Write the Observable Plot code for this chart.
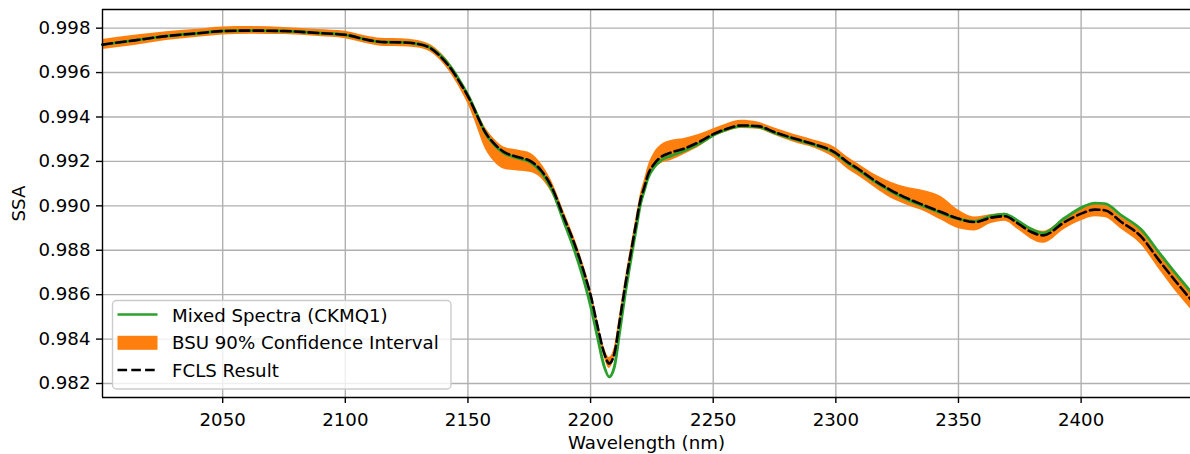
<!DOCTYPE html>
<html>
<head>
<meta charset="utf-8">
<script src="https://cdn.jsdelivr.net/npm/d3@7"></script>
<script src="https://cdn.jsdelivr.net/npm/@observablehq/plot@0.6"></script>
<style>
  html, body { margin: 0; padding: 0; background: white; }
</style>
</head>
<body>
<div id="chart"></div>
<script>
const wavelength = [2001, 2014, 2027, 2041, 2050, 2061, 2075, 2089, 2100, 2110, 2116, 2123, 2129, 2135, 2139, 2143, 2147, 2150.5, 2154, 2156.6, 2160.7, 2164.8, 2170.3, 2175.7, 2179.8, 2184, 2189.3, 2193.4, 2197.5, 2200.2, 2202.9, 2205.6, 2207.6, 2209.7, 2211.7, 2213.8, 2216.6, 2218.5, 2220.3, 2222, 2223.3, 2226, 2228.7, 2232.8, 2238.2, 2245, 2250.4, 2255.9, 2261.4, 2268.2, 2275, 2283.1, 2291.3, 2299.4, 2304.9, 2308.9, 2315.7, 2322.5, 2329.3, 2336.1, 2342.9, 2349.8, 2356.6, 2363.4, 2368.8, 2374.3, 2379.7, 2384.5, 2393.3, 2400.1, 2405.6, 2409.6, 2416.4, 2424.6, 2431.4, 2438.2, 2445];

const fcls = [0.99726, 0.99745, 0.99764, 0.99778, 0.99787, 0.99789, 0.99787, 0.99778, 0.99770, 0.99745, 0.99737, 0.99736, 0.99730, 0.99708, 0.99670, 0.99618, 0.99550, 0.99483, 0.99400, 0.99340, 0.99280, 0.99242, 0.99220, 0.99200, 0.99160, 0.99088, 0.98943, 0.98830, 0.98695, 0.98590, 0.98455, 0.98335, 0.98290, 0.98335, 0.98470, 0.98620, 0.98800, 0.98917, 0.99025, 0.99088, 0.99137, 0.99190, 0.99220, 0.99240, 0.99258, 0.99292, 0.99325, 0.99348, 0.99362, 0.99359, 0.99332, 0.99303, 0.99277, 0.99242, 0.99196, 0.99168, 0.99115, 0.99070, 0.99033, 0.99002, 0.98972, 0.98943, 0.98927, 0.98947, 0.98953, 0.98920, 0.98882, 0.98867, 0.98927, 0.98965, 0.98983, 0.98980, 0.98927, 0.98860, 0.98760, 0.98665, 0.98575];

const mixed = [0.99726, 0.99745, 0.99764, 0.99778, 0.99787, 0.99789, 0.99787, 0.99778, 0.99770, 0.99745, 0.99737, 0.99736, 0.99730, 0.99710, 0.99675, 0.99625, 0.99557, 0.99488, 0.99403, 0.99338, 0.99275, 0.99237, 0.99215, 0.99195, 0.99153, 0.99078, 0.98923, 0.98800, 0.98655, 0.98540, 0.98405, 0.98275, 0.98230, 0.98275, 0.98420, 0.98580, 0.98770, 0.98892, 0.99005, 0.99073, 0.99122, 0.99175, 0.99205, 0.99225, 0.99248, 0.99284, 0.99320, 0.99345, 0.99359, 0.99356, 0.99329, 0.99300, 0.99274, 0.99239, 0.99191, 0.99163, 0.99110, 0.99065, 0.99028, 0.98997, 0.98968, 0.98941, 0.98930, 0.98955, 0.98962, 0.98932, 0.98895, 0.98877, 0.98945, 0.98992, 0.99012, 0.99010, 0.98957, 0.98892, 0.98795, 0.98700, 0.98610];

const bandHigh = [0.99749, 0.99768, 0.99784, 0.99796, 0.99805, 0.99807, 0.99803, 0.99794, 0.99786, 0.99761, 0.99753, 0.99752, 0.99746, 0.99724, 0.99688, 0.99636, 0.99568, 0.99501, 0.99418, 0.99362, 0.99302, 0.99264, 0.99251, 0.99236, 0.99191, 0.99115, 0.98970, 0.98857, 0.98722, 0.98617, 0.98482, 0.98362, 0.98317, 0.98362, 0.98497, 0.98647, 0.98827, 0.98944, 0.99052, 0.99120, 0.99173, 0.99240, 0.99274, 0.99294, 0.99303, 0.99324, 0.99348, 0.99371, 0.99385, 0.99377, 0.99350, 0.99321, 0.99295, 0.99265, 0.99219, 0.99191, 0.99142, 0.99106, 0.99082, 0.99068, 0.99042, 0.98982, 0.98950, 0.98961, 0.98967, 0.98934, 0.98900, 0.98885, 0.98945, 0.98988, 0.99006, 0.99003, 0.98950, 0.98887, 0.98787, 0.98697, 0.98607];

const bandLow = [0.99704, 0.99722, 0.99744, 0.99760, 0.99769, 0.99773, 0.99771, 0.99762, 0.99752, 0.99727, 0.99717, 0.99716, 0.99712, 0.99690, 0.99652, 0.99596, 0.99523, 0.99447, 0.99346, 0.99268, 0.99199, 0.99165, 0.99157, 0.99150, 0.99124, 0.99061, 0.98934, 0.98821, 0.98686, 0.98581, 0.98446, 0.98317, 0.98268, 0.98317, 0.98461, 0.98611, 0.98791, 0.98908, 0.99016, 0.99075, 0.99115, 0.99163, 0.99189, 0.99204, 0.99231, 0.99270, 0.99311, 0.99334, 0.99348, 0.99345, 0.99318, 0.99285, 0.99259, 0.99215, 0.99165, 0.99137, 0.99084, 0.99034, 0.99002, 0.98975, 0.98936, 0.98898, 0.98887, 0.98920, 0.98931, 0.98893, 0.98850, 0.98831, 0.98895, 0.98933, 0.98951, 0.98948, 0.98895, 0.98824, 0.98720, 0.98620, 0.98530];

const xTicks = [2050, 2100, 2150, 2200, 2250, 2300, 2350, 2400];
const yTicks = [0.982, 0.984, 0.986, 0.988, 0.990, 0.992, 0.994, 0.996, 0.998];
const legendLabels = ["Mixed Spectra (CKMQ1)", "BSU 90% Confidence Interval", "FCLS Result"];

const rows = wavelength.map((w, i) => ({w, f: fcls[i], m: mixed[i], lo: bandLow[i], hi: bandHigh[i]}));

const xDomain = [2001, 2444.6];
const yDomain = [0.98137, 0.99884];
const GREEN = "#2ca02c", ORANGE = "#ff7f0e";
const FS = 18.2;

const chart = Plot.plot({
  width: 1190,
  height: 454,
  marginLeft: 102,
  marginRight: 0,
  marginTop: 9,
  marginBottom: 57,
  style: {fontFamily: "DejaVu Sans", fontSize: FS + "px", color: "black", background: "white", overflow: "visible"},
  x: {domain: xDomain},
  y: {domain: yDomain},
  marks: [
    Plot.gridX(xTicks, {stroke: "#b0b0b0", strokeOpacity: 1, strokeWidth: 1.4}),
    Plot.gridY(yTicks, {stroke: "#b0b0b0", strokeOpacity: 1, strokeWidth: 1.4}),
    Plot.areaY(rows, {x: "w", y1: "lo", y2: "hi", fill: ORANGE, curve: "monotone-x"}),
    Plot.line(rows, {x: "w", y: "m", stroke: GREEN, strokeWidth: 2.9, curve: "monotone-x"}),
    Plot.line(rows, {x: "w", y: "f", stroke: "black", strokeWidth: 2.6, strokeDasharray: "9.6,4.2", curve: "monotone-x"}),
    Plot.ruleX([xDomain[0]], {stroke: "black", strokeWidth: 1.4}),
    Plot.ruleY([yDomain[0], yDomain[1]], {stroke: "black", strokeWidth: 1.4}),
    Plot.axisX(xTicks, {tickSize: 6, tickPadding: 9.5, strokeWidth: 1.4, label: null, fill: "black", tickFormat: d3.format("d")}),
    Plot.axisY(yTicks, {tickSize: 6, tickPadding: 6, strokeWidth: 1.4, label: null, fill: "black", tickFormat: d3.format(".3f")}),
    Plot.text(["SSA"], {frameAnchor: "left", text: d => d, rotate: -90, dx: -83, textAnchor: "middle", lineAnchor: "middle", fill: "black"}),
    Plot.text(["Wavelength (nm)"], {frameAnchor: "bottom", text: d => d, dy: 46, textAnchor: "middle", lineAnchor: "middle", fill: "black"})
  ]
});

document.getElementById("chart").appendChild(chart);

// Legend (matplotlib-style, lower left inside the axes)
const svg = d3.select(chart);
const lg = svg.append("g")
  .attr("font-family", "DejaVu Sans")
  .attr("font-size", FS)
  .attr("text-anchor", "start");
lg.append("rect")
  .attr("x", 112.5).attr("y", 300.5).attr("width", 338.5).attr("height", 88.5)
  .attr("rx", 4).attr("ry", 4)
  .attr("fill", "white").attr("fill-opacity", 0.8)
  .attr("stroke", "#cccccc").attr("stroke-width", 1.4);
const rowsY = [322, 349.3, 376.5];
lg.append("line").attr("x1", 117.5).attr("x2", 157.5).attr("y1", 314.5).attr("y2", 314.5)
  .attr("stroke", GREEN).attr("stroke-width", 2.7);
lg.append("rect").attr("x", 117.5).attr("y", 335.8).attr("width", 40).attr("height", 14)
  .attr("fill", ORANGE);
lg.append("line").attr("x1", 117.5).attr("x2", 157.5).attr("y1", 370).attr("y2", 370)
  .attr("stroke", "black").attr("stroke-width", 2.6).attr("stroke-dasharray", "9.6,4.2");
legendLabels.forEach((t, i) => {
  lg.append("text").attr("x", 172).attr("y", rowsY[i]).attr("fill", "black")
    .attr("text-anchor", "start").text(t);
});
</script>
</body>
</html>
